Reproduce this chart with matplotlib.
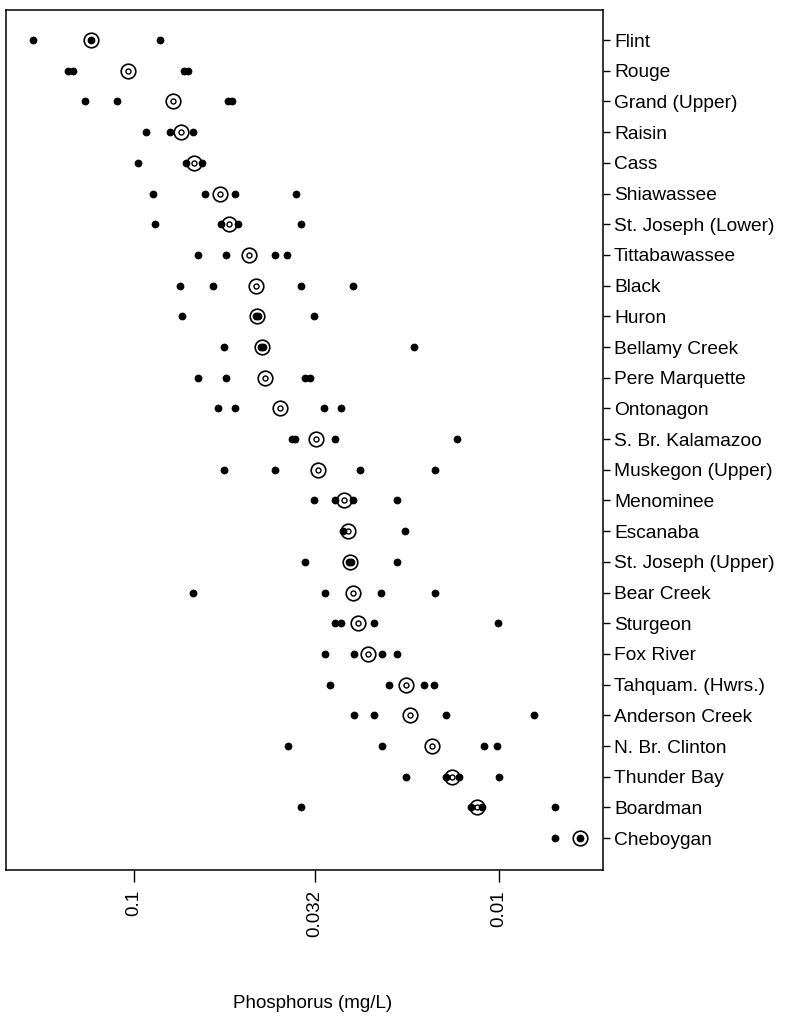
import matplotlib
matplotlib.use('Agg')
import matplotlib.pyplot as plt
from matplotlib.ticker import FixedLocator, NullLocator

plt.rcParams['font.family'] = ['Liberation Sans', 'DejaVu Sans']

# rivers, top to bottom
rivers = ['Flint', 'Rouge', 'Grand (Upper)', 'Raisin', 'Cass', 'Shiawassee',
          'St. Joseph (Lower)', 'Tittabawassee', 'Black', 'Huron', 'Bellamy Creek',
          'Pere Marquette', 'Ontonagon', 'S. Br. Kalamazoo', 'Muskegon (Upper)',
          'Menominee', 'Escanaba', 'St. Joseph (Upper)', 'Bear Creek', 'Sturgeon',
          'Fox River', 'Tahquam. (Hwrs.)', 'Anderson Creek', 'N. Br. Clinton',
          'Thunder Bay', 'Boardman', 'Cheboygan']

# median phosphorus (mg/L), the bullseye marks
medians = [0.1312, 0.1038, 0.0782, 0.0743, 0.0685, 0.0581,
           0.0549, 0.0484, 0.0463, 0.0460, 0.0446,
           0.0438, 0.0398, 0.0317, 0.0313,
           0.0266, 0.0259, 0.0256, 0.0251, 0.0243,
           0.0229, 0.0180, 0.0175, 0.0153,
           0.01345, 0.0115, 0.0060]

# individual samples (mg/L)
samples = [
    [0.189, 0.131, 0.0849],
    [0.152, 0.147, 0.0729, 0.0711],
    [0.1362, 0.1113, 0.0553, 0.0539],
    [0.0927, 0.0797, 0.0689],
    [0.0975, 0.0720, 0.0651],
    [0.0887, 0.0639, 0.0529, 0.0360],
    [0.0876, 0.0578, 0.0519, 0.0349],
    [0.0668, 0.0560, 0.0411, 0.0381],
    [0.0748, 0.0608, 0.0349, 0.0251],
    [0.0739, 0.0463, 0.0458, 0.0321],
    [0.0567, 0.0448, 0.0444, 0.0171],
    [0.0668, 0.0560, 0.0340, 0.0330],
    [0.0589, 0.0529, 0.0302, 0.0271],
    [0.0369, 0.0362, 0.0281, 0.0130],
    [0.0567, 0.0411, 0.0240, 0.0150],
    [0.0321, 0.0281, 0.0251, 0.0190],
    [0.0268, 0.0181],
    [0.0340, 0.0258, 0.0254, 0.0190],
    [0.0689, 0.0300, 0.0210, 0.0150],
    [0.0281, 0.0271, 0.0220, 0.01006],
    [0.0300, 0.0250, 0.0209, 0.0190],
    [0.0290, 0.0200, 0.0161, 0.0151],
    [0.0250, 0.0220, 0.0140, 0.00802],
    [0.0379, 0.0209, 0.0110, 0.0101],
    [0.0180, 0.0140, 0.0129, 0.0100],
    [0.0349, 0.0119, 0.0111, 0.00703],
    [0.00703, 0.0060],
]

xticks = [0.1, 0.032, 0.01]
xticklabels = ['0.1', '0.032', '0.01']

fig = plt.figure(figsize=(7.95, 10.21), dpi=100)
ax = fig.add_axes([6/795, 1-870/1021, 597/795, 860/1021])

n = len(rivers)
ypos = [n - 1 - i for i in range(n)]

for y, med, pts in zip(ypos, medians, samples):
    # bullseye: outer ring + inner ring
    ax.plot([med], [y], marker='o', ms=10.5, mfc='white', mec='black', mew=1.2, ls='none', zorder=2)
    ax.plot([med], [y], marker='o', ms=3.6, mfc='none', mec='black', mew=1.0, ls='none', zorder=3)
    ax.plot(pts, [y]*len(pts), marker='o', ms=4.6, mfc='black', mec='black', ls='none', zorder=4)

ax.set_xscale('log')
ax.set_xlim(0.2243, 0.00519)
ax.set_ylim(-1.04, n - 1 + 0.98)

ax.xaxis.set_major_locator(FixedLocator(xticks))
ax.xaxis.set_minor_locator(NullLocator())
ax.set_xticklabels(xticklabels, rotation=90, fontsize=13.5)
ax.tick_params(axis='x', length=8.5, width=1.0, pad=6)

ax.yaxis.tick_right()
ax.set_yticks(ypos)
ax.set_yticklabels(rivers, fontsize=13.8)
ax.tick_params(axis='y', length=5, width=1.0, pad=3)

for sp in ax.spines.values():
    sp.set_linewidth(1.1)

fig.text(313/795, 1-1003/1021, 'Phosphorus (mg/L)', ha='center', va='center', fontsize=13.5)

plt.savefig('out.png', dpi=100)
